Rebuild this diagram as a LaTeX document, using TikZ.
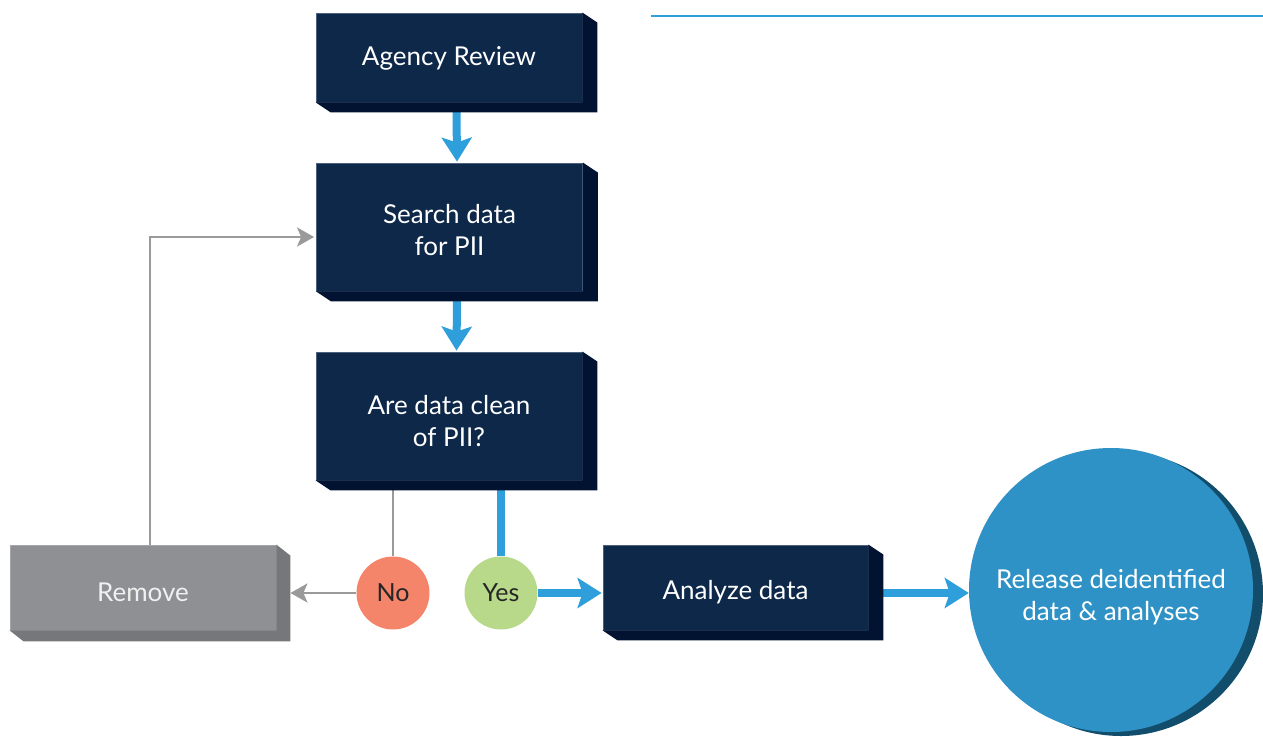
\documentclass[tikz,border=0pt]{standalone}
\usepackage{fontspec}
\setmainfont{Lato}
\usetikzlibrary{arrows.meta,calc,backgrounds}
\definecolor{navy}{HTML}{0D2849}
\definecolor{navyside}{HTML}{021332}
\definecolor{navyedge}{HTML}{4C617E}
\definecolor{flowblue}{HTML}{2E9FDB}
\definecolor{relblue}{HTML}{2F92C6}
\definecolor{relshadow}{HTML}{124E6C}
\definecolor{lineGray}{HTML}{9A9A9A}
\definecolor{remfront}{HTML}{8F9094}
\definecolor{remside}{HTML}{76777B}
\definecolor{noRed}{HTML}{F4846A}
\definecolor{yesGreen}{HTML}{B8D98A}
\tikzset{
  boxtext/.style={align=center, font=\fontsize{26}{32}\selectfont, inner sep=0pt},
  navybox/.style={fill=navy, draw=navyedge, line width=0.8pt, minimum width=266pt, inner sep=0pt},
  grayBox/.style={fill=remfront, draw=remfront!80!white, line width=0.8pt,
    minimum width=266pt, minimum height=85pt, inner sep=0pt},
  tw/.style 2 args={label={[boxtext, text=white, yshift=#1]center:#2}},
  answer/.style={circle, minimum size=73pt, inner sep=0pt, text=black!85, font=\fontsize{25}{28}\selectfont},
  bluearrow/.style={draw=flowblue, line width=8pt, -{Stealth[width=30pt,length=24pt,inset=5pt]}},
  blueline/.style={draw=flowblue, line width=8pt},
  grayarrow/.style={draw=lineGray, line width=2.5pt, -{Stealth[width=19pt,length=17pt,inset=4pt]}},
  grayline/.style={draw=lineGray, line width=2.5pt},
}
\begin{document}
\begin{tikzpicture}[x=1pt,y=-1pt]
\useasboundingbox (0,0) rectangle (1263,736);
% top-right rule
\coordinate (ruleA) at (651,16);
\coordinate (ruleB) at (1263,16);
\draw[flowblue, line width=1.5pt] (ruleA) -- (ruleB);

% nodes
\node[navybox, minimum height=89pt, tw={-1pt}{Agency Review}] (agency) at (449,57.5) {};
\node[navybox, minimum height=128pt, tw={-3pt}{Search data\\for PII}] (search) at (449.5,227) {};
\node[navybox, minimum height=128pt, tw={-5pt}{Are data clean\\of PII?}] (clean) at (449,416) {};
\node[navybox, minimum height=85pt, minimum width=265pt, tw={-5pt}{Analyze data}] (analyze) at (735.5,587.5) {};
\node[grayBox, label={[boxtext, text=white!94!black, yshift=-5pt]center:Remove}] (remove) at (143,587.5) {};
\node[answer, fill=noRed] (no) at (393,593) {No};
\node[answer, fill=yesGreen] (yes) at (501,593) {Yes};
\node[circle, fill=relblue, minimum size=284pt, inner sep=0pt, tw={-7pt}{Release deidentified\\data \& analyses}] (release) at (1111,590) {};

% 3D sides
\foreach \n in {agency,search,clean,analyze}{
  \fill[navyside] (\n.north east) -- ++(15,10) |- ($(\n.south west)+(15,10)$) -- (\n.south west) -- (\n.south east) -- cycle;
}
\fill[remside] (remove.north east) -- ++(14,11) |- ($(remove.south west)+(14,11)$) -- (remove.south west) -- (remove.south east) -- cycle;

\coordinate (remEdge) at ($(remove.east)+(14,0)$);
\coordinate (anEdge) at ($(analyze.east)+(14,5.5)$);

\begin{pgfonlayer}{background}
  \fill[relshadow] ($(release.center)+(10,4)$) circle (142);
  \draw[bluearrow] ($(agency.south)+(7.5,9)$) -- ($(search.north)+(7.5,-1)$);
  \draw[bluearrow] ($(search.south)+(7.5,9)$) -- ($(clean.north)+(7.5,-1)$);
  \draw[blueline] (clean.south -| yes) -- (yes.north);
  \draw[bluearrow] (yes.east) -- ($(yes.east -| analyze.west)+(-1,0)$);
  \draw[bluearrow] (anEdge) -- (anEdge -| release.west);
  \draw[grayline] (clean.south -| no) -- (no.north);
  \draw[grayarrow] (no.west) -- (no.west -| remEdge);
  \draw[grayarrow] ($(remove.north)+(7,0)$) |- ($(search.west)+(-2,10)$);
\end{pgfonlayer}
\end{tikzpicture}
\end{document}
